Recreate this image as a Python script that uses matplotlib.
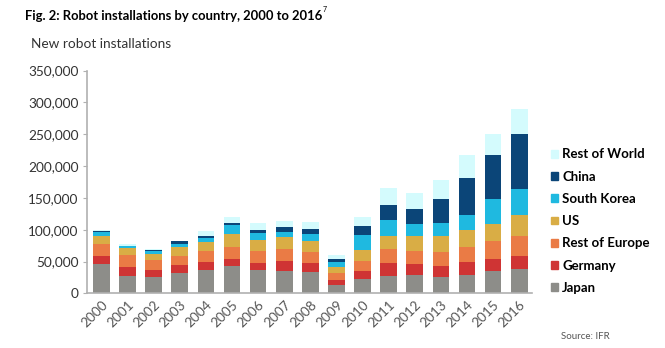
"""Robot installations by country, 2000 to 2016 (stacked bars)."""

import numpy as np
import matplotlib.pyplot as plt
from matplotlib.patches import Patch

plt.rcParams['font.family'] = ['Lato', 'DejaVu Sans']

years = [str(y) for y in range(2000, 2017)]

# values in thousands of units
japan = [46.0, 27.2, 25.7, 32.0, 36.7, 43.0, 36.7, 35.1, 33.5, 13.1, 22.5, 27.2, 28.8, 25.7, 28.8, 35.1, 38.3]
germany = [12.7, 14.2, 11.0, 12.5, 12.6, 11.0, 11.0, 15.7, 14.2, 7.9, 12.6, 20.5, 17.3, 17.3, 20.5, 18.9, 20.4]
rest_europe = [18.8, 18.9, 15.7, 14.2, 17.2, 18.8, 18.8, 18.9, 17.3, 11.0, 15.7, 22.0, 20.4, 22.0, 23.5, 28.3, 31.4]
us = [13.1, 11.0, 10.0, 14.1, 14.2, 20.5, 17.3, 18.9, 17.3, 9.4, 17.3, 20.4, 23.6, 25.1, 26.8, 26.7, 33.0]
south_korea = [5.3, 3.1, 4.1, 4.8, 6.3, 14.1, 11.0, 7.8, 11.0, 7.9, 23.6, 25.2, 18.9, 20.5, 23.5, 39.3, 40.9]
china = [1.6, 0.8, 1.6, 4.7, 3.1, 3.2, 4.8, 7.9, 7.8, 4.7, 14.1, 23.6, 23.6, 37.7, 58.2, 69.2, 86.5]
rest_world = [2.1, 2.7, 1.1, 0.5, 7.9, 9.4, 11.0, 9.4, 11.0, 6.3, 14.2, 26.7, 25.1, 29.9, 36.2, 33.0, 39.3]

series = [
    ('Japan', japan, '#8d8d89'),
    ('Germany', germany, '#cf3434'),
    ('Rest of Europe', rest_europe, '#ea7b45'),
    ('US', us, '#d9ad45'),
    ('South Korea', south_korea, '#1fb9e0'),
    ('China', china, '#0b4578'),
    ('Rest of World', rest_world, '#d4fbfd'),
]

fig = plt.figure(figsize=(6.65, 3.48), dpi=100)
ax = fig.add_axes([0.131, 0.157, 0.669, 0.640])

x = np.arange(len(years))
bottom = np.zeros(len(years))
for name, vals, color in series:
    v = np.array(vals) * 1000
    ax.bar(x, v, 0.64, bottom=bottom, color=color, label=name)
    bottom += v

ax.set_xlim(-0.55, 16.49)
ax.set_ylim(0, 350000)
ax.set_yticks(np.arange(0, 350001, 50000))
ax.set_yticklabels([f'{t:,}' for t in range(0, 350001, 50000)])
ax.set_xticks(x)
ax.set_xticklabels(years, rotation=45, ha='right', rotation_mode='anchor')

for s in ['top', 'right']:
    ax.spines[s].set_visible(False)
for s in ['left', 'bottom']:
    ax.spines[s].set_color('#b0b0b0')
    ax.spines[s].set_linewidth(1.2)
ax.tick_params(axis='y', length=3, color='#b0b0b0', labelsize=9.8, labelcolor='#333333', pad=3)
ax.tick_params(axis='x', length=0, labelsize=9.8, labelcolor='#555555', pad=4)

title = fig.text(0.037, 0.955, 'Fig. 2: Robot installations by country, 2000 to 2016',
                 fontsize=9.4, fontweight='bold', va='center')
fig.canvas.draw()
bb = title.get_window_extent()
fig.text(bb.x1 / 665 + 0.001, 0.972, '7', fontsize=5, va='center')

fig.text(0.047, 0.875, 'New robot installations', fontsize=9.8, color='#333333', va='center')
fig.text(0.843, 0.033, 'Source: IFR', fontsize=7, color='#555555', va='center')

handles = [Patch(color=c, label=n) for n, _, c in series][::-1]
fig.legend(handles=handles, loc='upper left', bbox_to_anchor=(0.8105, 0.608),
           frameon=False, prop={'weight': 'bold', 'size': 9.5},
           handlelength=0.55, handleheight=0.55, handletextpad=0.3, labelspacing=0.78)

fig.savefig('out.png', dpi=100)
